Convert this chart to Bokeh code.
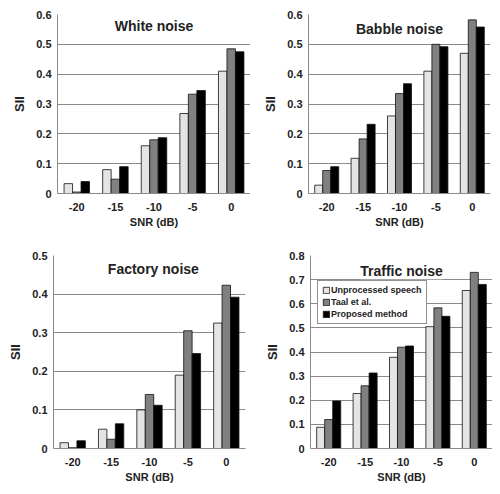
from bokeh.plotting import figure
from bokeh.models import FactorRange, ColumnDataSource, Label, Legend, LegendItem, FixedTicker, CustomJSTickFormatter
from bokeh.transform import dodge
from bokeh.layouts import column, row
from bokeh.embed import file_html
from bokeh.resources import INLINE

snr = ["-20", "-15", "-10", "-5", "0"]
series_names = ["Unprocessed speech", "Taal et al.", "Proposed method"]

white_unproc = [0.033, 0.080, 0.160, 0.268, 0.410]
white_taal = [0.005, 0.048, 0.180, 0.333, 0.485]
white_prop = [0.040, 0.090, 0.187, 0.345, 0.475]

babble_unproc = [0.028, 0.118, 0.260, 0.410, 0.470]
babble_taal = [0.077, 0.183, 0.335, 0.500, 0.582]
babble_prop = [0.090, 0.232, 0.368, 0.492, 0.558]

factory_unproc = [0.015, 0.050, 0.100, 0.190, 0.325]
factory_taal = [0.002, 0.024, 0.140, 0.305, 0.423]
factory_prop = [0.020, 0.064, 0.112, 0.246, 0.392]

traffic_unproc = [0.088, 0.228, 0.378, 0.505, 0.655]
traffic_taal = [0.120, 0.260, 0.420, 0.583, 0.730]
traffic_prop = [0.197, 0.313, 0.425, 0.548, 0.680]

titles = ["White noise", "Babble noise", "Factory noise", "Traffic noise"]
ymax = [0.6, 0.6, 0.5, 0.8]

FONT = "Liberation Sans"
TXT = "#222222"
colors = ["#e4e4e4", "#808080", "#000000"]


def panel(title, vals, top, width, height, borders, title_pos, legend=False):
    src = ColumnDataSource(dict(snr=snr, a=vals[0], b=vals[1], c=vals[2]))
    p = figure(x_range=FactorRange(*snr, range_padding=0), y_range=(0, top),
               width=width, height=height, output_backend="svg",
               toolbar_location=None, tools="")
    p.min_border_left, p.min_border_right, p.min_border_top, p.min_border_bottom = borders
    p.outline_line_color = None
    p.background_fill_color = "white"
    p.border_fill_color = "white"
    renderers = []
    for key, off, col in zip(["a", "b", "c"], [-0.22, 0.0, 0.22], colors):
        r = p.vbar(x=dodge("snr", off, range=p.x_range), top=key, width=0.22, source=src,
                   fill_color=col, line_color="#111111", line_width=0.8)
        renderers.append(r)
    p.xgrid.grid_line_color = None
    p.ygrid.grid_line_color = "#8a8a8a"
    p.ygrid.grid_line_width = 1
    n = int(round(top * 10))
    p.yaxis.ticker = FixedTicker(ticks=[i / 10 for i in range(n + 1)])
    p.yaxis.formatter = CustomJSTickFormatter(code="return Math.abs(tick) < 1e-9 ? '0' : tick.toFixed(1);")
    for ax in (p.xaxis[0], p.yaxis[0]):
        ax.axis_line_color = "#8a8a8a"
        ax.major_tick_line_color = None
        ax.minor_tick_line_color = None
        ax.major_tick_out = 0
        ax.major_label_text_font = FONT
        ax.major_label_text_font_style = "bold"
        ax.major_label_text_font_size = "11px"
        ax.major_label_text_color = TXT
        ax.axis_label_text_font = FONT
        ax.axis_label_text_font_style = "bold"
        ax.axis_label_text_color = TXT
    p.xaxis.axis_label = "SNR (dB)"
    p.xaxis.axis_label_text_font_size = "11px"
    p.xaxis.major_label_standoff = 9
    p.xaxis.axis_label_standoff = 2
    p.yaxis.axis_label = "SII"
    p.yaxis.axis_label_text_font_size = "13px"
    p.yaxis.major_label_standoff = 6
    p.yaxis.axis_label_standoff = 6
    p.add_layout(Label(x=title_pos[0], y=title_pos[1], text=title, text_align="center",
                       text_baseline="middle", text_font=FONT, text_font_style="bold",
                       text_font_size="14px", text_color=TXT,
                       background_fill_color="white" if legend else None))
    if legend:
        lg = Legend(items=[LegendItem(label=nm, renderers=[r]) for nm, r in zip(series_names, renderers)],
                    location="top_left", orientation="vertical")
        lg.margin = 0
        lg.padding = 4
        lg.spacing = 2
        lg.border_line_color = "#222222"
        lg.border_line_width = 1
        lg.background_fill_alpha = 1
        lg.glyph_width = 8
        lg.glyph_height = 8
        lg.label_height = 10
        lg.label_standoff = 1
        lg.label_text_font = FONT
        lg.label_text_font_style = "bold"
        lg.label_text_font_size = "9px"
        lg.label_text_color = TXT
        lg.label_text_line_height = 1.0
        p.add_layout(lg)
        # place legend 7px from frame left and 27px below frame top
        frame_h = height - borders[2] - borders[3]
        lg.location = (7, frame_h - 27 - 42)
    return p


p1 = panel(titles[0], [white_unproc, white_taal, white_prop], ymax[0], 250, 240,
           (57, 0, 13, 47), (2.5, 0.56))
p2 = panel(titles[1], [babble_unproc, babble_taal, babble_prop], ymax[1], 242, 240,
           (58, 2, 14, 47), (2.5, 0.55))
p3 = panel(titles[2], [factory_unproc, factory_taal, factory_prop], ymax[2], 250, 246,
           (53, 5, 15, 38), (2.6, 0.464))
p4 = panel(titles[3], [traffic_unproc, traffic_taal, traffic_prop], ymax[3], 242, 246,
           (60, 0, 15, 38), (2.5, 0.735), legend=True)

layout = column(row(p1, p2, spacing=0), row(p3, p4, spacing=0), spacing=0)
open("out.html", "w").write(file_html(layout, INLINE))
